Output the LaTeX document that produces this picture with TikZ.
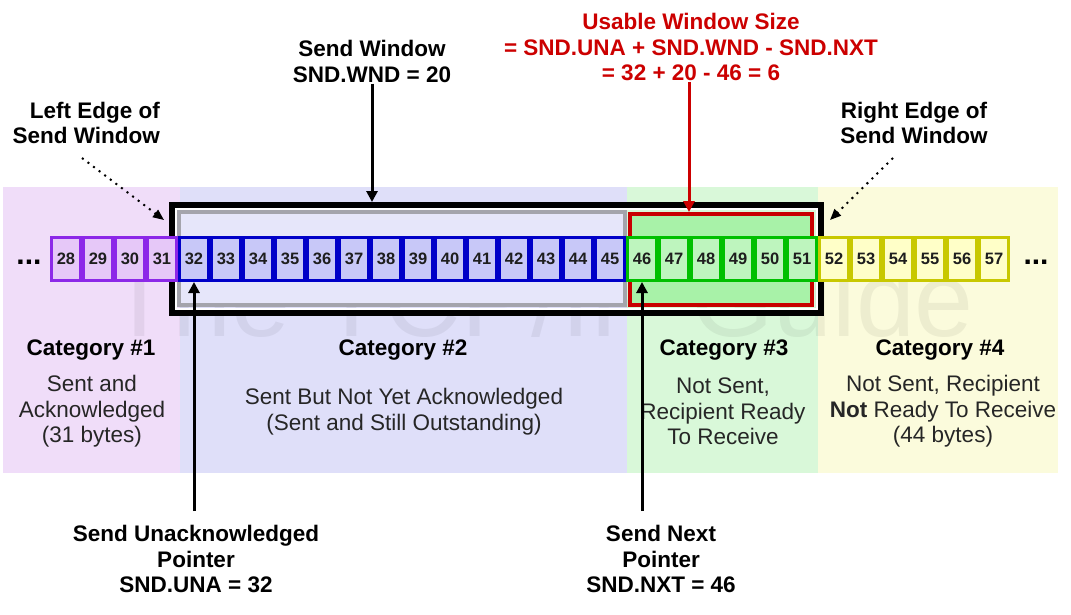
\documentclass[tikz,border=0pt]{standalone}
\usepackage{fontspec}
\setmainfont{Liberation Sans}
\usetikzlibrary{arrows.meta}
\definecolor{bgA}{HTML}{F0DDF9}
\definecolor{bgB}{HTML}{DFDFF9}
\definecolor{bgC}{HTML}{D9F8D9}
\definecolor{bgD}{HTML}{FBFBDC}
\definecolor{lnA}{HTML}{8C28E8}
\definecolor{fiA}{HTML}{E6C8F8}
\definecolor{lnB}{HTML}{0000C8}
\definecolor{fiB}{HTML}{C8C8F8}
\definecolor{lnC}{HTML}{00C000}
\definecolor{fiC}{HTML}{BEF5BE}
\definecolor{lnD}{HTML}{C8C800}
\definecolor{fiD}{HTML}{FFFFC8}
\definecolor{grayln}{HTML}{A4A4AC}
\definecolor{grayfi}{HTML}{E6E6FA}
\definecolor{redln}{HTML}{C80000}
\definecolor{redfi}{HTML}{A8F2A8}
\definecolor{redtxt}{HTML}{CC0000}
\definecolor{numtxt}{HTML}{1E1E1E}
\tikzset{
  lbl/.style={font=\fontsize{22.5}{25.5}\selectfont\bfseries, align=center, inner sep=1pt},
  txt/.style={font=\fontsize{22.5}{25.5}\selectfont, align=center, text=black!85, inner sep=1pt},
  cell/.style={draw, line width=3pt, minimum width=29pt, minimum height=43pt, inner sep=0pt,
    font=\fontsize{16.5}{16.5}\selectfont\bfseries, text=numtxt},
  cellA/.style={draw=lnA, fill=fiA},
  cellB/.style={draw=lnB, fill=fiB},
  cellC/.style={draw=lnC, fill=fiC},
  cellD/.style={draw=lnD, fill=fiD},
  boxnode/.style={rectangle, inner sep=0pt},
  ptr/.style={line width=3pt, -{Triangle[length=11pt,width=11pt]}},
  dotarr/.style={line width=2pt, dash pattern=on 2pt off 5pt, -{Triangle[length=11pt,width=9pt]}},
  ellip/.style={anchor=base, inner sep=0pt, font=\fontsize{30}{30}\selectfont\bfseries},
}
\begin{document}
\begin{tikzpicture}[x=1pt,y=-1pt]
\useasboundingbox (0,0) rectangle (1071,615);
\fill[white] (0,0) rectangle (1071,615);
% category bands
\fill[bgA] (3,187) rectangle (180,473);
\fill[bgB] (180,187) rectangle (627,473);
\fill[bgC] (627,187) rectangle (818,473);
\fill[bgD] (818,187) rectangle (1058,473);
% watermark
\node[anchor=base, text=black, text opacity=0.055, inner sep=0pt,
  font=\fontsize{106}{106}\selectfont] (wm) at (541,336) {The TCP/IP Guide};
% send window box
\node[boxnode, draw=black, line width=6pt, minimum width=649pt, minimum height=108pt] (sendwin) at (496.5,259) {};
\node[boxnode, draw=white, line width=2pt, minimum width=641pt, minimum height=100pt] (gap) at (496.5,259) {};
\node[boxnode, draw=grayln, fill=grayfi, line width=4pt, minimum width=446pt, minimum height=93pt] (sentbox) at (402,258.5) {};
\node[boxnode, draw=redln, fill=redfi, line width=4pt, minimum width=182pt, minimum height=91pt] (usable) at (721,259.5) {};
% cells
\foreach \k in {28,...,31} {\node[cell,cellA] (c\k) at ({32*\k-830},259) {\k};}
\foreach \k in {32,...,45} {\node[cell,cellB] (c\k) at ({32*\k-830},259) {\k};}
\foreach \k in {46,...,51} {\node[cell,cellC] (c\k) at ({32*\k-830},259) {\k};}
\foreach \k in {52,...,57} {\node[cell,cellD] (c\k) at ({32*\k-830},259) {\k};}
\node[ellip] (dotsL) at (29,264) {...};
\node[ellip] (dotsR) at (1036,264) {...};
% top labels
\node[lbl] (swl) at (372,61.5) {Send Window\\SND.WND = 20};
\node[lbl, text=redtxt] (uwl) at (691,47) {Usable Window Size\\= SND.UNA + SND.WND - SND.NXT\\= 32 + 20 - 46 = 6};
\node[lbl, align=right, anchor=east] (lel) at (161,123) {Left Edge of\\Send Window};
\node[lbl] (rel) at (914,123) {Right Edge of\\Send Window};
\coordinate (ux) at (689,0);
\coordinate (by) at (0,511);
\draw[ptr] (swl.south) -- (swl.south |- sendwin.north);
\draw[ptr, draw=redtxt, fill=redtxt] (uwl.south -| ux) -- (ux |- usable.north);
\coordinate (leS) at (82,158);
\coordinate (leE) at (164,220);
\coordinate (reS) at (893,158);
\coordinate (reE) at (830,220);
\draw[dotarr] (leS) -- (leE);
\draw[dotarr] (reS) -- (reE);
% categories
\node[lbl] (cat1) at (91,350) {Category \#1};
\node[txt] (d1) at (92,411.5) {Sent and\\Acknowledged\\(31 bytes)};
\node[lbl] (cat2) at (403,350) {Category \#2};
\node[txt] (d2) at (404,411.5) {Sent But Not Yet Acknowledged\\(Sent and Still Outstanding)};
\node[lbl] (cat3) at (724,350) {Category \#3};
\node[txt] (d3) at (723,411.5) {Not Sent,\\Recipient Ready\\To Receive};
\node[lbl] (cat4) at (940,350) {Category \#4};
\node[txt] (d4) at (943,411.5) {Not Sent, Recipient\\\textbf{Not} Ready To Receive\\(44 bytes)};
% bottom pointers
\node[lbl] (una) at (196,559) {Send Unacknowledged\\Pointer\\SND.UNA = 32};
\node[lbl] (nxt) at (661,559) {Send Next\\Pointer\\SND.NXT = 46};
\draw[ptr] (c32.south |- by) -- (c32.south);
\draw[ptr] (c46.south |- by) -- (c46.south);
\end{tikzpicture}
\end{document}
